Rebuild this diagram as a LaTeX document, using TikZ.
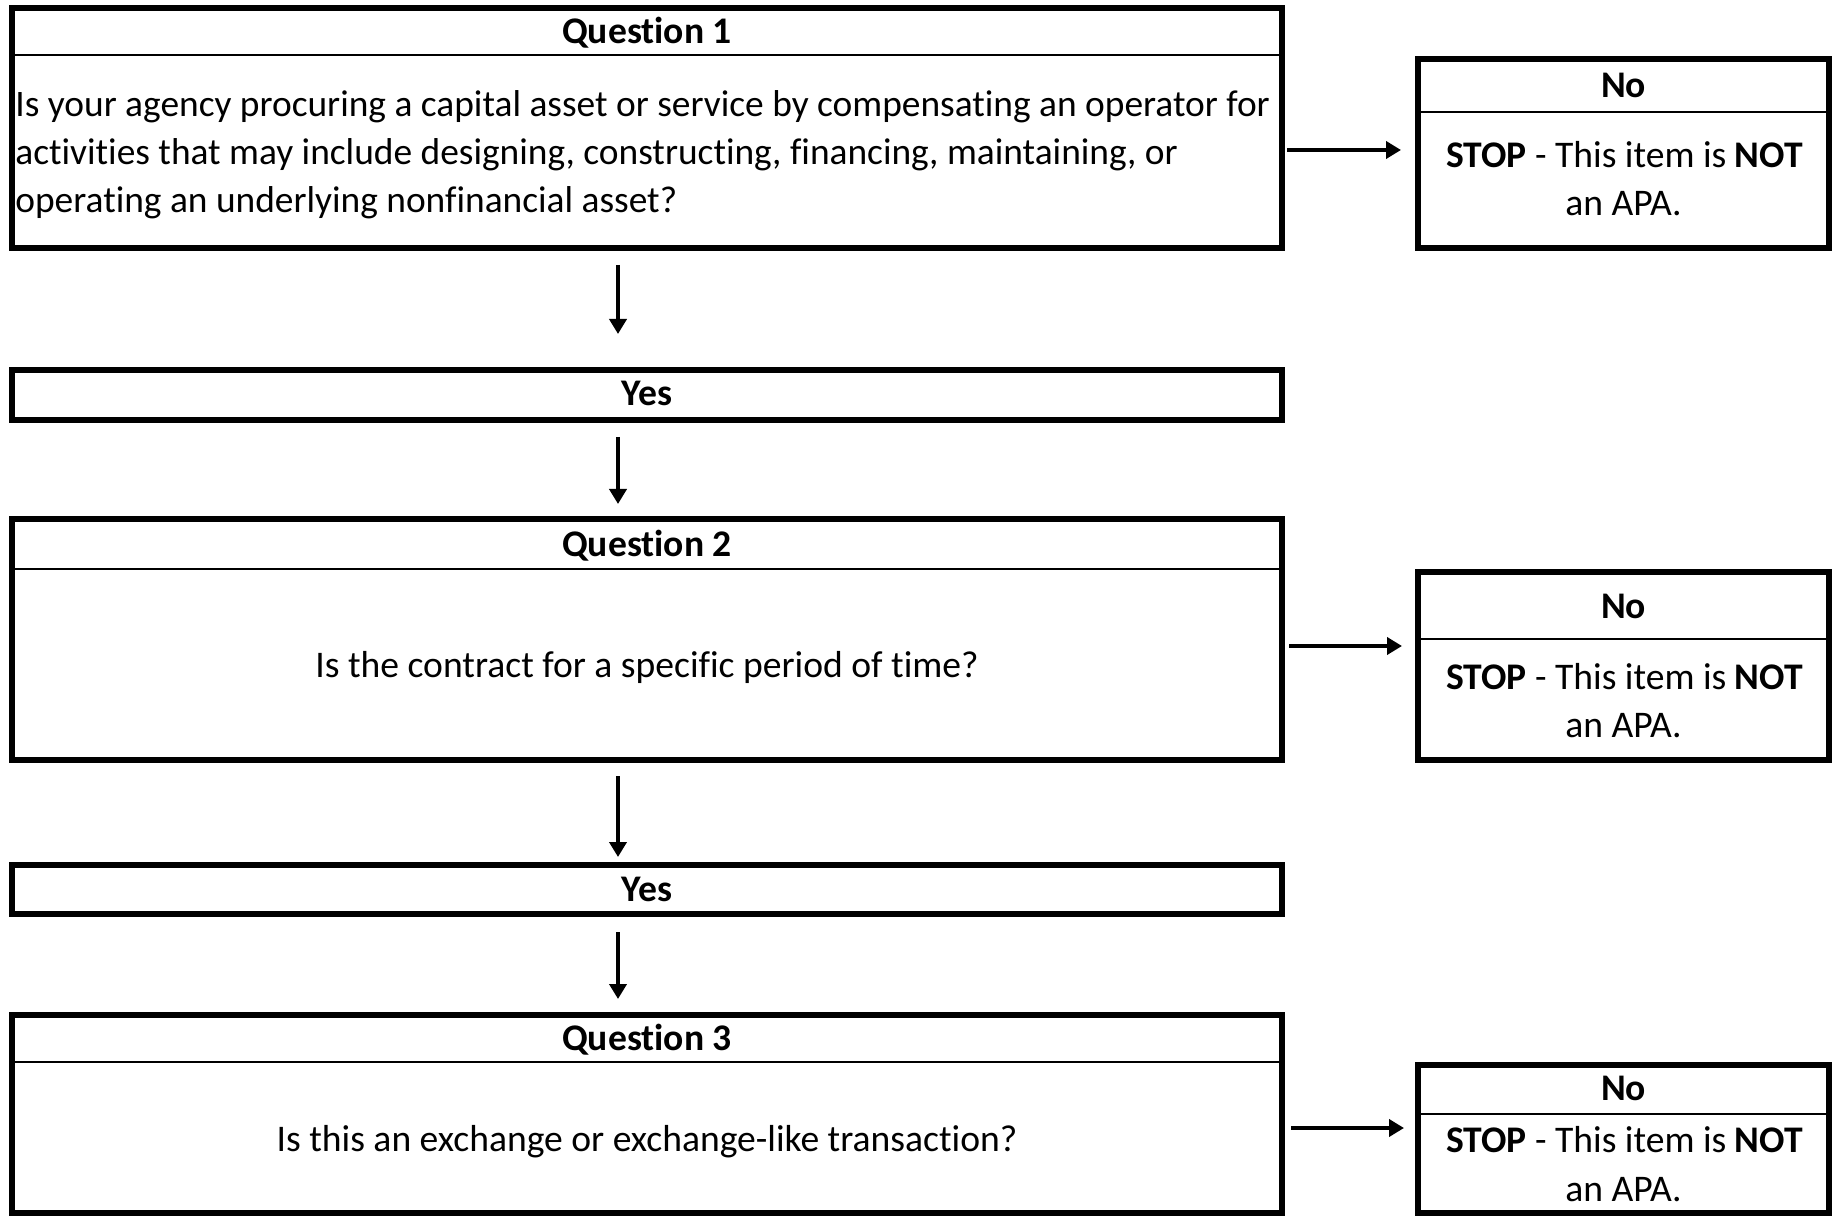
\documentclass[tikz,border=0pt]{standalone}
\usepackage{fontspec}
\setmainfont{Carlito}[Ligatures=NoCommon]
\usetikzlibrary{arrows.meta,fit}
\begin{document}
\begin{tikzpicture}[x=0.5pt,y=-0.5pt,
  box/.style={draw, line width=2.9pt, inner sep=0pt, outer sep=0pt},
  div/.style={line width=1pt},
  arr/.style={line width=2pt, -{Triangle[length=7.5pt,width=8.5pt]}},
  txt/.style={inner sep=0pt, anchor=base, font=\fontsize{18.8}{24}\selectfont},
  hd/.style={txt, font=\fontsize{18.8}{24}\selectfont\bfseries}]
\useasboundingbox (0,0) rectangle (1839,1218);

% Question boxes
\node[box, fit={(12,8) (1282,248)}] (q1) {};
\draw[div] (q1.west |- 0,55) -- (q1.east |- 0,55);
\node[hd] (q1h) at (647,43.5) {Question 1};
\node[txt, align=left, anchor=west, font=\fontsize{18.7}{24}\selectfont] (q1t) at (15,155)
  {Is your agency procuring a capital asset or service by compensating an operator for\\
   activities that may include designing, constructing, financing, maintaining, or\\
   operating an underlying nonfinancial asset?};

\node[box, fit={(12,370) (1282,420)}] (y1) {};
\node[hd] (y1t) at (647,406) {Yes};

\node[box, fit={(12,519) (1282,760)}] (q2) {};
\draw[div] (q2.west |- 0,569) -- (q2.east |- 0,569);
\node[hd] (q2h) at (647,556) {Question 2};
\node[txt] (q2t) at (647,677) {Is the contract for a specific period of time?};

\node[box, fit={(12,865) (1282,914)}] (y2) {};
\node[hd] (y2t) at (647,901) {Yes};

\node[box, fit={(12,1015) (1282,1213)}] (q3) {};
\draw[div] (q3.west |- 0,1062) -- (q3.east |- 0,1062);
\node[hd] (q3h) at (647,1050) {Question 3};
\node[txt] (q3t) at (647,1151) {Is this an exchange or exchange-like transaction?};

% No boxes
\node[box, fit={(1418,59) (1829,248)}] (n1) {};
\draw[div] (n1.west |- 0,112) -- (n1.east |- 0,112);
\node[hd] (n1h) at (1623.5,97.5) {No};
\node[txt] (n1a) at (1624.5,168) {\textbf{STOP} - This item is \textbf{NOT}};
\node[txt] (n1b) at (1623.5,216) {an APA.};

\node[box, fit={(1418,572) (1829,760)}] (n2) {};
\draw[div] (n2.west |- 0,639) -- (n2.east |- 0,639);
\node[hd] (n2h) at (1623.5,618) {No};
\node[txt] (n2a) at (1624.5,689) {\textbf{STOP} - This item is \textbf{NOT}};
\node[txt] (n2b) at (1623.5,737) {an APA.};

\node[box, fit={(1418,1065) (1829,1213)}] (n3) {};
\draw[div] (n3.west |- 0,1114) -- (n3.east |- 0,1114);
\node[hd] (n3h) at (1623.5,1100) {No};
\node[txt] (n3a) at (1624.5,1152) {\textbf{STOP} - This item is \textbf{NOT}};
\node[txt] (n3b) at (1623.5,1201) {an APA.};

% connectors
\coordinate (vx) at (618,0);
\draw[arr, shorten <=8.5pt, shorten >=18pt] (q1.south -| vx) -- (y1.north -| vx);
\draw[arr, shorten <=8.5pt, shorten >=7.5pt] (y1.south -| vx) -- (q2.north -| vx);
\draw[arr, shorten <=8pt, shorten >=4pt] (q2.south -| vx) -- (y2.north -| vx);
\draw[arr, shorten <=9pt, shorten >=8pt] (y2.south -| vx) -- (q3.north -| vx);

\draw[arr, shorten <=2.5pt, shorten >=8.5pt] (q1.east |- 0,150) -- (n1.west |- 0,150);
\draw[arr, shorten <=3.5pt, shorten >=8pt] (q2.east |- 0,646) -- (n2.west |- 0,646);
\draw[arr, shorten <=4.5pt, shorten >=7pt] (q3.east |- 0,1128) -- (n3.west |- 0,1128);
\end{tikzpicture}
\end{document}
